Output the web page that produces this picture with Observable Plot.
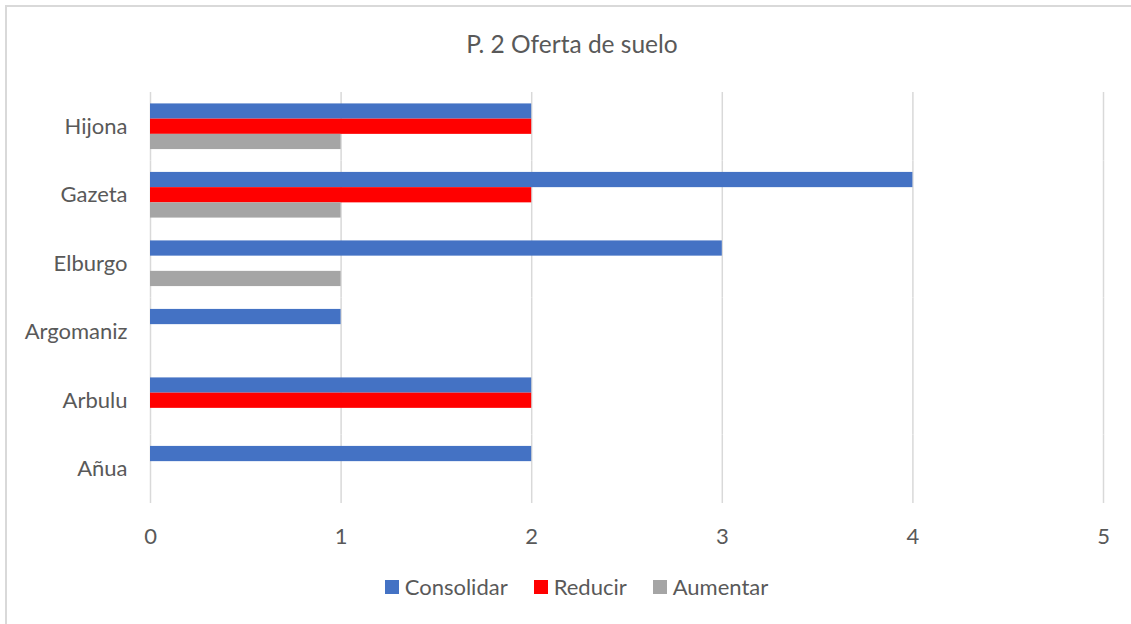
<!DOCTYPE html>
<html>
<head>
<meta charset="utf-8">
<script src="https://cdn.jsdelivr.net/npm/d3@7"></script>
<script src="https://cdn.jsdelivr.net/npm/@observablehq/plot@0.6"></script>
<style>
  html, body { margin: 0; padding: 0; background: #fff; }
  #wrap { position: relative; width: 1131px; height: 624px; overflow: hidden; font-family: Lato, "Open Sans", sans-serif; color: #595959; }
  #border { position: absolute; left: 5px; top: 5px; width: 1140px; height: 640px; border: 2px solid #d9d9d9; box-sizing: border-box; }
  #title { position: absolute; left: 0; width: 1144px; top: 29px; text-align: center; font-size: 24.5px; line-height: 30px; }
  #chart { position: absolute; left: 0; top: 92px; }
  #legend { position: absolute; left: 11px; width: 1131px; top: 576px; display: flex; justify-content: center; font-size: 22px; line-height: 22px; }
  .item { display: flex; align-items: center; margin: 0 13px; }
  .sw { width: 14px; height: 14px; margin-right: 6px; }
</style>
</head>
<body>
<div id="wrap">
  <div id="border"></div>
  <div id="title"></div>
  <div id="chart"></div>
  <div id="legend"></div>
</div>
<script>
const title = "P. 2 Oferta de suelo";
const categories = ["Hijona", "Gazeta", "Elburgo", "Argomaniz", "Arbulu", "Añua"];
const series = ["Consolidar", "Reducir", "Aumentar"];
const consolidar = [2, 4, 3, 1, 2, 2];
const reducir = [2, 2, 0, 0, 2, 0];
const aumentar = [1, 1, 1, 0, 0, 0];
const xTicks = [0, 1, 2, 3, 4, 5];
const colors = ["#4472C4", "#FF0000", "#A5A5A5"];

const valuesBySeries = [consolidar, reducir, aumentar];
const rows = [];
categories.forEach((c, i) => {
  series.forEach((s, j) => {
    rows.push({category: c, series: s, value: valuesBySeries[j][i]});
  });
});

document.getElementById("title").textContent = title;

const chart = Plot.plot({
  width: 1131,
  height: 461,
  marginLeft: 150,
  marginRight: 28,
  marginTop: 0,
  marginBottom: 50,
  style: {fontSize: "22px", fontFamily: "Lato, 'Open Sans', sans-serif", color: "#595959", background: "transparent"},
  x: {domain: [0, 5], ticks: xTicks, tickFormat: d3.format("d"), tickSize: 0, tickPadding: 25, label: null, axis: "bottom"},
  fy: {domain: categories, padding: 0, round: false, tickSize: 0, tickPadding: 23, label: null, axis: "left"},
  y: {domain: series, axis: null, round: false, paddingInner: 0, paddingOuter: 0.75},
  color: {domain: series, range: colors},
  marks: [
    Plot.ruleX(xTicks, {stroke: "#d9d9d9", strokeWidth: 1.5}),
    Plot.barX(rows.filter(d => d.value > 0), {x: "value", y: "series", fy: "category", fill: "series", insetTop: 0, insetBottom: 0})
  ]
});
document.getElementById("chart").appendChild(chart);

const legend = document.getElementById("legend");
series.forEach((s, i) => {
  const item = document.createElement("div");
  item.className = "item";
  const sw = document.createElement("div");
  sw.className = "sw";
  sw.style.background = colors[i];
  const label = document.createElement("span");
  label.textContent = s;
  item.appendChild(sw);
  item.appendChild(label);
  legend.appendChild(item);
});
</script>
</body>
</html>
